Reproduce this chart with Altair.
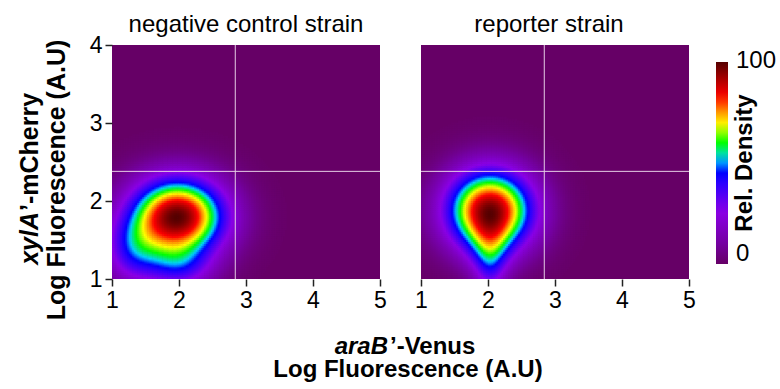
import altair as alt
import numpy as np
import pandas as pd

# ---------------- data ----------------
panel_titles = ["negative control strain", "reporter strain"]
# density blobs (centre x, centre y, spread x, spread y, weight)
neg_cx = [1.98, 1.30, 2.00]
neg_cy = [1.80, 1.35, 1.15]
neg_sx = [0.50, 0.30, 0.35]
neg_sy = [0.35, 0.30, 0.22]
neg_w = [1.00, 0.30, 0.28]
rep_cx = [2.03, 2.03, 2.03]
rep_cy = [1.88, 1.35, 1.05]
rep_sx = [0.46, 0.22, 0.15]
rep_sy = [0.37, 0.28, 0.25]
rep_w = [1.00, 0.25, 0.14]
gate_x = [2.84]
gate_y = [2.38]
x_ticks = [1, 2, 3, 4, 5]
y_ticks = [1, 2, 3, 4]
legend_values = [0, 100]

# colour map of the "Rel. Density" bar
cmap_stops = [0, 10, 26, 40, 45, 52, 60, 69, 76, 83, 100]
cmap_colors = ["#660066", "#7400a0", "#8a00e6", "#2a00ff", "#0000ff", "#00d0ff",
               "#00ff00", "#ffff00", "#ff8800", "#ff0000", "#550000"]

FONT = "Liberation Sans"
BG = "#660066"
W, H = 268, 234
STEP = 0.025
OVER = 0.008  # tiny overlap of neighbouring cells to hide seams
BAR_TOP, BAR_LEN = 17, 202


def density_table(cx, cy, sx, sy, w):
    xs = np.arange(1.0, 3.8, STEP)
    ys = np.arange(1.0, 3.1, STEP)
    X, Y = np.meshgrid(xs + STEP / 2, ys + STEP / 2)
    Z = np.zeros_like(X)
    for a, c, b, d, wt in zip(cx, cy, sx, sy, w):
        Z += wt * np.exp(-0.5 * (((X - a) / b) ** 2 + ((Y - c) / d) ** 2))
    Z = 100 * Z / Z.max()
    X0, Y0 = np.meshgrid(xs, ys)
    df = pd.DataFrame({"x0": X0.ravel(), "x1": X0.ravel() + STEP + OVER,
                       "y0": Y0.ravel(), "y1": Y0.ravel() + STEP + OVER, "v": Z.ravel()})
    return df[df["v"] >= 0.5].reset_index(drop=True)


tables = [density_table(neg_cx, neg_cy, neg_sx, neg_sy, neg_w),
          density_table(rep_cx, rep_cy, rep_sx, rep_sy, rep_w)]

cscale = alt.Scale(domain=cmap_stops, range=cmap_colors, interpolate="rgb")
xscale = alt.Scale(domain=[1, 5], nice=False, zero=False)
yscale = alt.Scale(domain=[1, 4], nice=False, zero=False)
one = pd.DataFrame({"k": [0]})


def txt(text, x, y, size=24, weight="normal", style="normal", angle=0, align="center", baseline="alphabetic"):
    return alt.Chart(one).mark_text(
        text=text, font=FONT, fontSize=size, fontWeight=weight, fontStyle=style,
        angle=angle, align=align, baseline=baseline, color="black"
    ).encode(x=alt.value(x), y=alt.value(y))


def panel(i, left):
    xaxis = alt.Axis(values=x_ticks, title=None, labelFlush=False, format="d")
    yaxis = alt.Axis(values=y_ticks, title=None, format="d") if left else None
    heat = alt.Chart(tables[i]).mark_rect(strokeWidth=0).encode(
        x=alt.X("x0:Q", scale=xscale, axis=xaxis),
        x2="x1:Q",
        y=alt.Y("y0:Q", scale=yscale, axis=yaxis),
        y2="y1:Q",
        color=alt.Color("v:Q", scale=cscale, legend=alt.Legend(
            type="gradient", values=legend_values, title=None, orient="none",
            legendX=604, legendY=BAR_TOP, direction="vertical", gradientLength=BAR_LEN,
            gradientThickness=12, gradientStrokeWidth=0, labelExpr="''")),
    )
    vrule = alt.Chart(pd.DataFrame({"g": gate_x})).mark_rule(
        color="#e6cce6", strokeWidth=1).encode(x=alt.X("g:Q", scale=xscale))
    hrule = alt.Chart(pd.DataFrame({"g": gate_y})).mark_rule(
        color="#e6cce6", strokeWidth=1).encode(y=alt.Y("g:Q", scale=yscale))
    layers = [heat, vrule, hrule]
    if left:
        layers += [
            txt(panel_titles[0], W / 2, -13),
            txt("xylA", -82, 167, size=25, weight="bold", style="italic", angle=270,
                align="right", baseline="middle"),
            txt("\u2019-mCherry", -82, 166, size=25, weight="bold", angle=270,
                align="left", baseline="middle"),
            txt("Log Fluorescence (A.U)", -55, 135, size=25, weight="bold", angle=270,
                baseline="middle"),
            txt("araB", 276, 309, size=24, weight="bold", style="italic", align="right"),
            txt("\u2019-Venus", 278, 309, size=24, weight="bold", align="left"),
            txt("Log Fluorescence (A.U)", 296, 332, size=24, weight="bold"),
        ]
    else:
        layers += [
            txt(panel_titles[1], 128, -13),
            txt("Rel. Density", 324, 118, size=24, weight="bold", angle=270, baseline="middle"),
            txt(str(legend_values[1]), 315, BAR_TOP - 1, align="left", baseline="middle"),
            txt(str(legend_values[0]), 315, BAR_TOP + BAR_LEN - 10, align="left", baseline="middle"),
        ]
    return alt.layer(*layers).properties(width=W, height=H)


chart = alt.hconcat(panel(0, True), panel(1, False), spacing=41, bounds="flush").resolve_scale(
    color="shared", x="independent", y="independent"
).properties(
    padding={"left": 18, "top": 13, "right": 0, "bottom": 0}
).configure_view(
    fill=BG, stroke=None
).configure_axis(
    domain=False, grid=False, tickColor="#222222", tickWidth=1.5, tickSize=7,
    labelFont=FONT, labelFontSize=23, labelColor="black", labelPadding=3
)

chart.save("out.html", embed_options={"renderer": "svg", "actions": False})
